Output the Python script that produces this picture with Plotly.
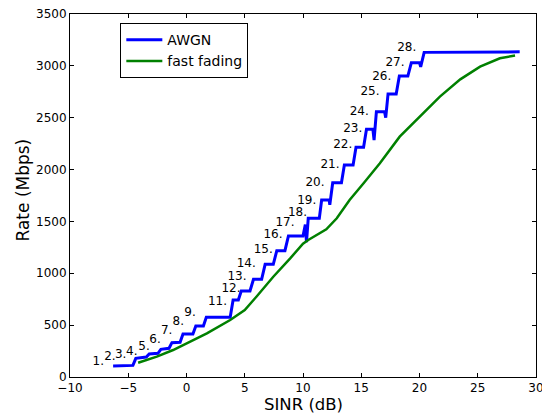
import plotly.graph_objects as go

# AWGN staircase (SINR dB, Rate Mbps)
awgn_x = [-6.3, -4.6, -4.35, -3.45, -3.2, -2.45, -2.2, -1.5, -1.25, -0.55, -0.3, 0.55, 0.8,
          1.45, 1.7, 3.75, 4.0, 4.45, 4.7, 5.45, 5.75, 6.45, 6.75, 7.45, 7.75, 8.45, 8.75,
          10.0, 10.2, 10.3, 10.45, 11.4, 11.6, 12.25, 12.3, 12.55, 13.3, 13.55, 14.3, 14.55,
          15.2, 15.45, 16.0, 16.1, 16.3, 17.0, 17.1, 17.3, 18.0, 18.27, 19.0, 19.3, 20.0,
          20.1, 20.4, 28.6]
awgn_y = [107, 112, 180, 192, 222, 228, 267, 277, 331, 335, 415, 415, 492,
          492, 575, 575, 742, 742, 829, 829, 942, 942, 1086, 1086, 1218, 1218, 1360,
          1360, 1470, 1300, 1530, 1530, 1707, 1707, 1660, 1873, 1873, 2044, 2044, 2215,
          2215, 2388, 2388, 2285, 2558, 2558, 2500, 2729, 2729, 2902, 2902, 3031, 3031,
          2990, 3130, 3135]

# fast fading curve
fade_x = [-4.15, -2.55, -1.15, 0.3, 1.75, 3.75, 5.0, 6.0, 7.45, 8.9, 10.0, 10.45, 12.0,
          12.9, 14.0, 15.2, 16.6, 18.3, 20.0, 21.75, 23.5, 25.2, 26.9, 28.2]
fade_y = [138, 196, 260, 340, 421, 550, 646, 774, 967, 1144, 1285, 1321, 1424,
          1530, 1707, 1868, 2061, 2317, 2510, 2703, 2870, 2992, 3073, 3100]

# MCS labels
mcs_labels = ["1.", "2.", "3.", "4.", "5.", "6.", "7.", "8.", "9.", "11.", "12.", "13.",
              "14.", "15.", "16.", "17.", "18.", "19.", "20.", "21.", "22.", "23.", "24.",
              "25.", "26.", "27.", "28."]
mcs_x = [-7.57, -6.57, -5.65, -4.70, -3.65, -2.70, -1.70, -0.70, 0.30, 2.66, 3.82, 4.33,
         5.13, 6.59, 7.42, 8.45, 9.53, 10.32, 11.03, 12.32, 13.41, 14.27, 14.83, 15.75,
         16.76, 17.90, 18.90]
mcs_y = [148, 196, 212, 244, 292, 357, 446, 533, 614, 728, 850, 967, 1087, 1220, 1369,
         1482, 1581, 1697, 1871, 2044, 2237, 2388, 2558, 2751, 2896, 3031, 3169]

x_ticks = [-10, -5, 0, 5, 10, 15, 20, 25, 30]
y_ticks = [0, 500, 1000, 1500, 2000, 2500, 3000, 3500]

FONT = "DejaVu Sans"

fig = go.Figure()
fig.add_trace(go.Scatter(x=awgn_x, y=awgn_y, mode="lines", name="AWGN",
                         line=dict(color="#0000ff", width=3)))
fig.add_trace(go.Scatter(x=fade_x, y=fade_y, mode="lines", name="fast fading",
                         line=dict(color="#008000", width=2.5)))
fig.add_trace(go.Scatter(x=mcs_x, y=mcs_y, mode="text", text=mcs_labels,
                         textposition="middle center", showlegend=False,
                         textfont=dict(family=FONT, size=12, color="black"),
                         hoverinfo="skip"))

axis_common = dict(showline=True, linecolor="black", linewidth=1, mirror="ticks",
                   ticks="inside", ticklen=4, tickcolor="black", showgrid=False,
                   zeroline=False, automargin=False, ticklabeloverflow="allow",
                   tickfont=dict(family=FONT, size=12, color="black"))

fig.update_xaxes(range=[-10, 30], tickvals=x_ticks, **axis_common)
fig.update_yaxes(range=[0, 3500], tickvals=y_ticks, **axis_common)

# axis titles as annotations for precise placement
fig.add_annotation(text="SINR (dB)", xref="paper", yref="paper", x=0.5, y=0,
                   xanchor="center", yanchor="middle", yshift=-27, showarrow=False,
                   font=dict(family=FONT, size=16.5, color="black"))
fig.add_annotation(text="Rate (Mbps)", xref="paper", yref="paper", x=0, y=0.5,
                   xanchor="center", yanchor="middle", xshift=-48, yshift=5,
                   textangle=-90, showarrow=False,
                   font=dict(family=FONT, size=17, color="black"))

# page body adds an 8px offset, so the figure is sized to fit the window
fig.update_layout(
    template="none",
    width=542, height=408,
    margin=dict(l=62, r=14, t=6, b=39, pad=0),
    plot_bgcolor="white", paper_bgcolor="white",
    font=dict(family=FONT, color="black"),
    legend=dict(x=0.108, y=0.975, xanchor="left", yanchor="top",
                bordercolor="black", borderwidth=1, bgcolor="white",
                font=dict(family=FONT, size=14, color="black"),
                tracegroupgap=0, itemwidth=36),
    showlegend=True,
)

fig.write_html("out.html")
